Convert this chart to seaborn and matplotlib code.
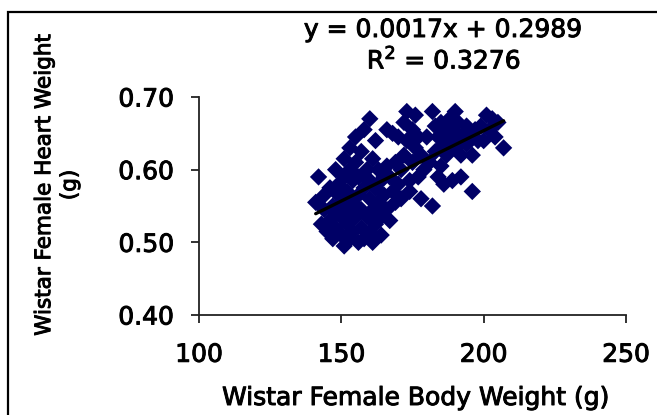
import matplotlib
matplotlib.use("Agg")
import matplotlib.pyplot as plt
import matplotlib.patheffects as pe
import seaborn as sns
import pandas as pd
from matplotlib.patches import Rectangle

body_weight = [
    141, 142, 143, 144, 144, 145, 146, 146, 147, 147, 148, 148, 148, 149, 149,
    150, 150, 150, 151, 151, 151, 152, 152, 152, 153, 153, 153, 154, 154, 154,
    155, 155, 155, 156, 156, 156, 157, 157, 157, 158, 158, 158, 159, 159, 160,
    160, 160, 160, 161, 161, 161, 162, 162, 162, 163, 163, 164, 164, 164, 165,
    165, 166, 166, 166, 167, 167, 168, 168, 169, 169, 170, 170, 171, 171, 172,
    172, 173, 173, 174, 174, 175, 175, 176, 176, 177, 177, 178, 178, 179,
    180, 181, 182, 182, 183, 183, 184, 184, 185, 185, 186, 186, 187, 187, 188,
    188, 189, 189, 190, 190, 191, 191, 192, 192, 193, 194, 194, 195, 196, 196,
    197, 198, 199, 200, 201, 202, 203, 204, 205, 207,
]
heart_weight = [
    0.555, 0.590, 0.525, 0.545, 0.565, 0.515, 0.530, 0.575, 0.550, 0.505, 0.520, 0.540, 0.600, 0.565, 0.580,
    0.510, 0.535, 0.555, 0.495, 0.590, 0.615, 0.525, 0.545, 0.570, 0.505, 0.600, 0.630, 0.515, 0.555, 0.585,
    0.535, 0.610, 0.645, 0.500, 0.565, 0.590, 0.520, 0.545, 0.625, 0.505, 0.575, 0.655, 0.535, 0.600, 0.515,
    0.560, 0.585, 0.670, 0.500, 0.545, 0.615, 0.525, 0.575, 0.640, 0.555, 0.600, 0.510, 0.535, 0.585, 0.590,
    0.565, 0.545, 0.605, 0.655, 0.530, 0.590, 0.570, 0.650, 0.555, 0.610, 0.580, 0.645, 0.600, 0.560, 0.620,
    0.665, 0.680, 0.640, 0.585, 0.570, 0.655, 0.610, 0.675, 0.630, 0.590, 0.645, 0.620, 0.560, 0.600,
    0.645, 0.610, 0.680, 0.550, 0.660, 0.625, 0.590, 0.645, 0.665, 0.605, 0.635, 0.580, 0.655, 0.620, 0.670,
    0.640, 0.585, 0.655, 0.630, 0.680, 0.645, 0.665, 0.620, 0.590, 0.650, 0.635, 0.660, 0.645, 0.620, 0.570,
    0.655, 0.640, 0.660, 0.640, 0.675, 0.655, 0.670, 0.645, 0.665, 0.630,
]

x_ticks = [100, 150, 200, 250]
y_ticks = [0.40, 0.50, 0.60, 0.70]
equation_text = "y = 0.0017x + 0.2989"
r2_text = "R$^2$ = 0.3276"
x_label = "Wistar Female Body Weight (g)"
y_label = "Wistar Female Heart Weight\n(g)"

df = pd.DataFrame({"body": body_weight, "heart": heart_weight})

sns.set_style("white")
plt.rcParams["font.family"] = ["DejaVu Sans"]
plt.rcParams["text.color"] = "black"
plt.rcParams["xtick.color"] = "#222222"
plt.rcParams["ytick.color"] = "#222222"
plt.rcParams["mathtext.default"] = "regular"

heavy = [pe.withStroke(linewidth=0.7, foreground="black")]

fig = plt.figure(figsize=(6.57, 4.15), dpi=100)
ax = fig.add_axes([199 / 657, 1 - 315 / 415, (626 - 199) / 657, (315 - 97) / 415])

sns.scatterplot(data=df, x="body", y="heart", marker="D", s=78, color="#000066",
                edgecolor="none", linewidth=0, ax=ax, zorder=2)
sns.regplot(data=df, x="body", y="heart", scatter=False, ci=None, truncate=True,
            line_kws={"color": "black", "linewidth": 2.4, "zorder": 3}, ax=ax)

ax.set_xlim(100, 250)
ax.set_ylim(0.40, 0.70)
ax.set_xticks(x_ticks)
ax.set_yticks(y_ticks)
ax.set_xticklabels([str(t) for t in x_ticks], fontsize=18, color="black")
ax.set_yticklabels([f"{t:.2f}" for t in y_ticks], fontsize=18, color="black")
for lbl in ax.get_xticklabels() + ax.get_yticklabels():
    lbl.set_path_effects(heavy)
ax.tick_params(axis="both", direction="out", length=6, width=1.3, color="#222222",
               left=True, bottom=True)
ax.tick_params(axis="x", pad=14)
ax.tick_params(axis="y", pad=12)
for side in ["top", "right"]:
    ax.spines[side].set_visible(False)
for side in ["left", "bottom"]:
    ax.spines[side].set_color("#222222")
    ax.spines[side].set_linewidth(1.3)
ax.set_xlabel("")
ax.set_ylabel("")

fig.text(416 / 657, 1 - 398 / 415, x_label, ha="center", va="center", fontsize=18,
         path_effects=heavy)
fig.text(57 / 657, 1 - 185 / 415, y_label, ha="center", va="center", fontsize=15.5,
         rotation=90, linespacing=1.35, path_effects=heavy)
fig.text(443 / 657, 1 - 30 / 415, equation_text, ha="center", va="center", fontsize=18,
         path_effects=heavy)
fig.text(444 / 657, 1 - 60 / 415, r2_text, ha="center", va="center", fontsize=18,
         path_effects=heavy)

fig.patches.append(Rectangle((8 / 657, -0.1), 1.2, 1 - 12 / 415 + 0.1,
                             transform=fig.transFigure, fill=False,
                             edgecolor="black", linewidth=1.6))

fig.savefig("out.png", dpi=100)
